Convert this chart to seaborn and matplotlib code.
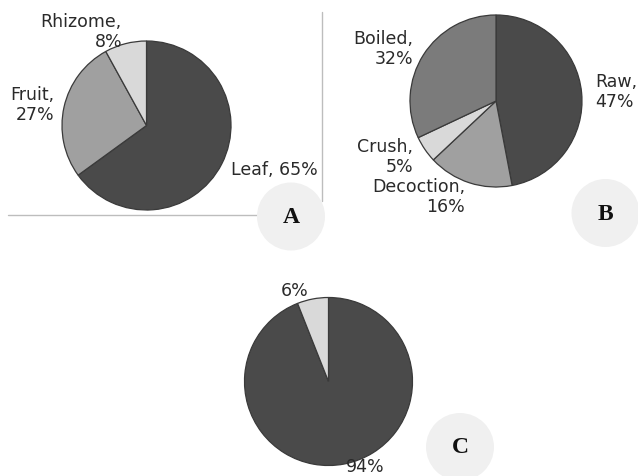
import matplotlib
matplotlib.use("Agg")
import matplotlib.pyplot as plt
import seaborn as sns
from matplotlib.patches import Circle

sns.set_theme(style="white")
plt.rcParams['font.family'] = ['DejaVu Sans']

# Data
parts_labels = ["Leaf", "Fruit", "Rhizome"]
parts_values = [65, 27, 8]
prep_labels = ["Raw", "Decoction", "Crush", "Boiled"]
prep_values = [47, 16, 5, 32]
c_labels = ["94%", "6%"]
c_values = [94, 6]

DARK = "#4a4a4a"
MID = "#a0a0a0"
MID2 = "#7b7b7b"
LIGHT = "#d9d9d9"

W, H = 638, 477
fig = plt.figure(figsize=(W / 100, H / 100), dpi=100)
ax = fig.add_axes([0, 0, 1, 1])
ax.set_xlim(0, W)
ax.set_ylim(0, H)
ax.set_aspect("equal")
ax.axis("off")

def Y(y):
    return H - y

wp = dict(edgecolor="#3a3a3a", linewidth=0.9)
txt = dict(fontsize=12.5, color="#2a2a2a", linespacing=1.1)

# Panel A frame lines
ax.plot([8, 258], [Y(216), Y(216)], color="#bdbdbd", lw=1, zorder=0)
ax.plot([322, 322], [Y(13), Y(202)], color="#bdbdbd", lw=1, zorder=0)

# Pie A
ax.pie(parts_values, colors=[DARK, MID, LIGHT], startangle=90, counterclock=False,
       center=(146.5, Y(126.5)), radius=84.5, wedgeprops=wp, frame=True)
ax.text(231, Y(170), f"{parts_labels[0]}, {parts_values[0]}%", ha="left", va="center", **txt)
ax.text(54, Y(105), f"{parts_labels[1]},\n{parts_values[1]}%", ha="right", va="center", multialignment="right", **txt)
ax.text(122, Y(32), f"{parts_labels[2]},\n{parts_values[2]}%", ha="right", va="center", multialignment="right", **txt)

# Pie B
ax.pie(prep_values, colors=[DARK, MID, LIGHT, MID2], startangle=90, counterclock=False,
       center=(496, Y(102)), radius=86, wedgeprops=wp, frame=True)
ax.text(595, Y(92), f"{prep_labels[0]},\n{prep_values[0]}%", ha="left", va="center", multialignment="left", **txt)
ax.text(465, Y(197), f"{prep_labels[1]},\n{prep_values[1]}%", ha="right", va="center", multialignment="right", **txt)
ax.text(413, Y(157), f"{prep_labels[2]},\n{prep_values[2]}%", ha="right", va="center", multialignment="right", **txt)
ax.text(413, Y(49), f"{prep_labels[3]},\n{prep_values[3]}%", ha="right", va="center", multialignment="right", **txt)

# Pie C
ax.pie(c_values, colors=[DARK, LIGHT], startangle=90, counterclock=False,
       center=(328.5, Y(382.5)), radius=84, wedgeprops=wp, frame=True)
ax.text(365, Y(467), c_labels[0], ha="center", va="center", **txt)
ax.text(295, Y(291), c_labels[1], ha="center", va="center", **txt)

# Reset limits after pies
ax.set_xlim(0, W)
ax.set_ylim(0, H)
ax.axis("off")

# Panel letters
for cx, cy, letter in [(291, 217.5, "A"), (605.5, 214, "B"), (460, 448, "C")]:
    ax.add_patch(Circle((cx, Y(cy)), 34, facecolor="#f0f0f0", edgecolor="none", zorder=3))
    ax.text(cx, Y(cy), letter, ha="center", va="center", fontsize=17, fontweight="bold",
            family="Liberation Serif", color="#111111", zorder=4)

fig.savefig("out.png", dpi=100, facecolor="white")
